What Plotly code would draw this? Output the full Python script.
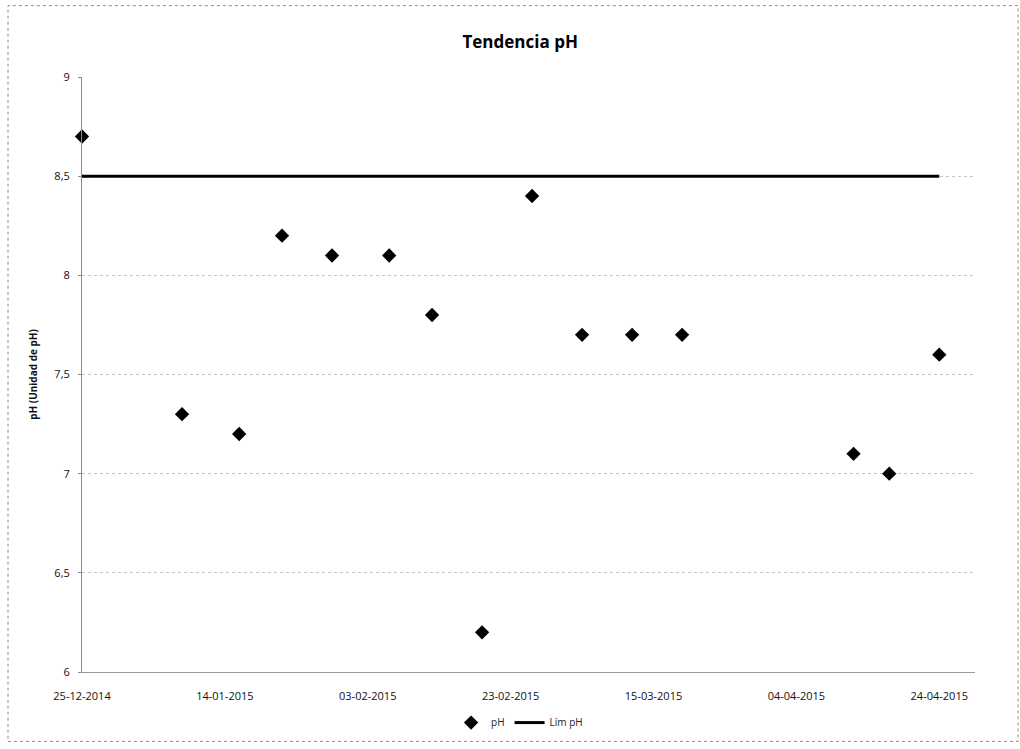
import plotly.graph_objects as go

# Data
dates = ["2014-12-25", "2015-01-08", "2015-01-16", "2015-01-22", "2015-01-29",
         "2015-02-06", "2015-02-12", "2015-02-19", "2015-02-26", "2015-03-05",
         "2015-03-12", "2015-03-19", "2015-04-12", "2015-04-17", "2015-04-24"]
ph_values = [8.7, 7.3, 7.2, 8.2, 8.1, 8.1, 7.8, 6.2, 8.4, 7.7, 7.7, 7.7, 7.1, 7.0, 7.6]

lim_dates = ["2014-12-25", "2015-04-24"]
lim_values = [8.5, 8.5]

x_tick_vals = ["2014-12-25", "2015-01-14", "2015-02-03", "2015-02-23",
               "2015-03-15", "2015-04-04", "2015-04-24"]
x_tick_text = ["25-12-2014", "14-01-2015", "03-02-2015", "23-02-2015",
               "15-03-2015", "04-04-2015", "24-04-2015"]
y_tick_vals = [6, 6.5, 7, 7.5, 8, 8.5, 9]
y_tick_text = ["6", "6,5", "7", "7,5", "8", "8,5", "9"]

W, H = 1020, 749
L, R, T, B = 82, 45, 77, 72

fig = go.Figure()
fig.add_trace(go.Scatter(
    x=dates, y=ph_values, mode="markers", name="pH",
    marker=dict(symbol="diamond", size=11, color="black"),
    cliponaxis=False,
))
fig.add_trace(go.Scatter(
    x=lim_dates, y=lim_values, mode="lines", name="Lím pH",
    line=dict(color="black", width=3),
    cliponaxis=False,
))

fig.update_layout(
    width=W, height=H,
    margin=dict(l=L, r=R, t=T, b=B),
    paper_bgcolor="white", plot_bgcolor="white",
    font=dict(family="Open Sans, DejaVu Sans, sans-serif", color="#111111", size=11),
    title=dict(text="<b>Tendencia pH</b>", x=0.51, xanchor="center",
               y=1 - 42 / H, yanchor="middle",
               font=dict(size=17, color="black", family="Open Sans, sans-serif")),
    showlegend=True,
    legend=dict(orientation="h", x=0.49, xanchor="center", y=-(728 - 677) / 600,
                yanchor="middle", font=dict(size=10, color="#222222"),
                bgcolor="rgba(0,0,0,0)", itemwidth=30, tracegroupgap=0),
    xaxis=dict(
        type="date", range=["2014-12-25", "2015-04-29"],
        tickmode="array", tickvals=x_tick_vals, ticktext=x_tick_text,
        tickfont=dict(size=11, color="#111111"),
        showgrid=False, zeroline=False,
        showline=True, linecolor="#9a9a9a", linewidth=1, griddash="dot",
        ticks="", ticklen=0, ticklabelstandoff=14,
    ),
    yaxis=dict(
        range=[6, 9], tickmode="array", tickvals=y_tick_vals, ticktext=y_tick_text,
        tickfont=dict(size=11, color="#111111"),
        showgrid=True, gridcolor="#c4c4c4", griddash="dot", gridwidth=1,
        zeroline=False,
        showline=True, linecolor="#8a8a8a", linewidth=1,
        ticks="outside", ticklen=3, tickcolor="#8a8a8a", ticklabelstandoff=6,
        title=dict(text="<b>pH (Unidad de pH)</b>", font=dict(size=10, color="#111111"),
                   standoff=14),
    ),
)

# Chart area frame (faint dotted, as in the scanned original)
fig.add_shape(type="rect", xref="paper", yref="paper",
              x0=(8 - L) / (W - L - R), x1=(1018 - L) / (W - L - R),
              y0=(H - B - 747) / (H - T - B), y1=(H - B - 5) / (H - T - B),
              line=dict(color="#8c8c8c", width=1, dash="dot"), layer="below")

fig.write_html("out.html")
